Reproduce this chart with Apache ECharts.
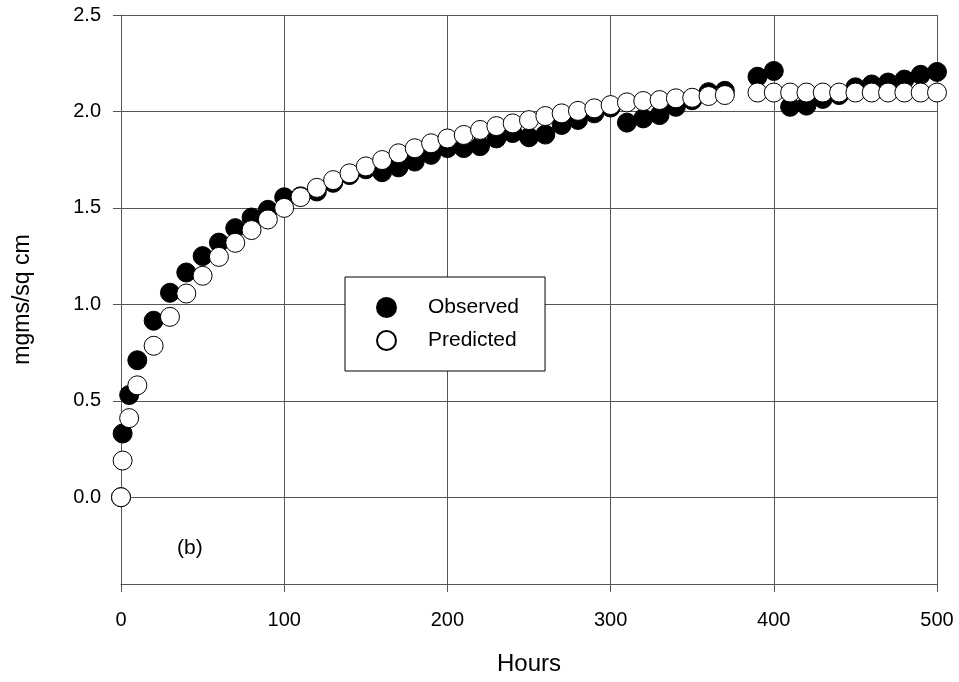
<!DOCTYPE html>
<html>
<head>
<meta charset="utf-8">
<script src="https://cdn.jsdelivr.net/npm/echarts@6/dist/echarts.min.js"></script>
<style>
  html, body { margin: 0; padding: 0; background: #fff; }
  #chart { width: 959px; height: 682px; }
</style>
</head>
<body>
<div id="chart"></div>
<script>
// hours (no sample at 380)
const hours = [0, 1, 5, 10, 20, 30, 40, 50, 60, 70, 80, 90, 100,
  110, 120, 130, 140, 150, 160, 170, 180, 190, 200,
  210, 220, 230, 240, 250, 260, 270, 280, 290, 300,
  310, 320, 330, 340, 350, 360, 370, 390, 400,
  410, 420, 430, 440, 450, 460, 470, 480, 490, 500]

const observed = [0, 0.33, 0.53, 0.71, 0.915, 1.06, 1.165, 1.25, 1.32, 1.395, 1.45, 1.49, 1.555,
  1.56, 1.585, 1.63, 1.67, 1.70, 1.685, 1.71, 1.74, 1.775, 1.81,
  1.81, 1.82, 1.86, 1.888, 1.866, 1.88, 1.93, 1.956, 1.99, 2.02,
  1.942, 1.964, 1.981, 2.024, 2.058, 2.10, 2.107, 2.18, 2.21,
  2.024, 2.03, 2.065, 2.085, 2.125, 2.14, 2.15, 2.165, 2.19, 2.205]

const predicted = [0, 0.19, 0.41, 0.58, 0.785, 0.935, 1.056, 1.148, 1.246, 1.319, 1.385, 1.44, 1.50,
  1.556, 1.604, 1.644, 1.679, 1.715, 1.748, 1.783, 1.809, 1.835, 1.86,
  1.878, 1.904, 1.924, 1.938, 1.955, 1.976, 1.99, 2.003, 2.016, 2.033,
  2.047, 2.054, 2.059, 2.068, 2.071, 2.08, 2.085, 2.098, 2.098,
  2.098, 2.098, 2.098, 2.098, 2.098, 2.098, 2.098, 2.098, 2.098, 2.098]

const yTicks = [0, 0.5, 1.0, 1.5, 2.0, 2.5]

const font = 'Liberation Sans, Arial, sans-serif'
const lineColor = '#555'

function pairs (ys) {
  return hours.map((h, i) => [h, ys[i]])
}

const chart = echarts.init(document.getElementById('chart'))

const option = {
  animation: false,
  backgroundColor: '#fff',
  textStyle: { fontFamily: font, color: '#000' },
  grid: {
    left: 121,
    right: 22,
    top: 15,
    bottom: 98
  },
  legend: {
    left: 345,
    top: 277,
    orient: 'vertical',
    backgroundColor: '#fff',
    borderColor: '#000',
    borderWidth: 1,
    padding: [20, 26, 20, 31],
    itemWidth: 19,
    itemHeight: 19,
    itemGap: 12,
    icon: 'circle',
    textStyle: {
      fontFamily: font,
      fontSize: 21,
      color: '#000',
      padding: [0, 0, 0, 27]
    },
    z: 10
  },
  xAxis: {
    type: 'value',
    min: 0,
    max: 500,
    interval: 100,
    name: 'Hours',
    nameLocation: 'middle',
    nameGap: 68,
    nameTextStyle: { fontFamily: font, fontSize: 24, color: '#000' },
    axisLine: { show: true, onZero: false, lineStyle: { color: lineColor, width: 1 } },
    axisTick: { show: true, length: 8, lineStyle: { color: lineColor } },
    axisLabel: { margin: 26, fontFamily: font, fontSize: 20, color: '#000' },
    splitLine: { show: true, lineStyle: { color: lineColor, width: 1 } }
  },
  yAxis: {
    type: 'value',
    min: -0.45,
    max: 2.5,
    name: 'mgms/sq cm',
    nameLocation: 'middle',
    nameGap: 87,
    nameTextStyle: { fontFamily: font, fontSize: 23, color: '#000' },
    axisLine: { show: true, lineStyle: { color: lineColor, width: 1 } },
    axisTick: { show: true, length: 8, customValues: yTicks, lineStyle: { color: lineColor } },
    axisLabel: {
      margin: 20,
      fontFamily: font,
      fontSize: 20,
      color: '#000',
      customValues: yTicks,
      formatter: (v) => v.toFixed(1)
    },
    splitLine: { show: true, lineStyle: { color: lineColor, width: 1 } }
  },
  graphic: [{
    type: 'text',
    left: 177,
    top: 538,
    style: { text: '(b)', font: '21px ' + font, fill: '#000' }
  }],
  series: [
    {
      name: 'Observed',
      type: 'scatter',
      symbol: 'circle',
      symbolSize: 19,
      itemStyle: { color: '#000', borderColor: '#000', borderWidth: 1, opacity: 1 },
      data: pairs(observed)
    },
    {
      name: 'Predicted',
      type: 'scatter',
      symbol: 'circle',
      symbolSize: 19,
      itemStyle: { color: '#fff', borderColor: '#000', borderWidth: 1, opacity: 1 },
      data: pairs(predicted)
    }
  ]
}

chart.setOption(option)
</script>
</body>
</html>
